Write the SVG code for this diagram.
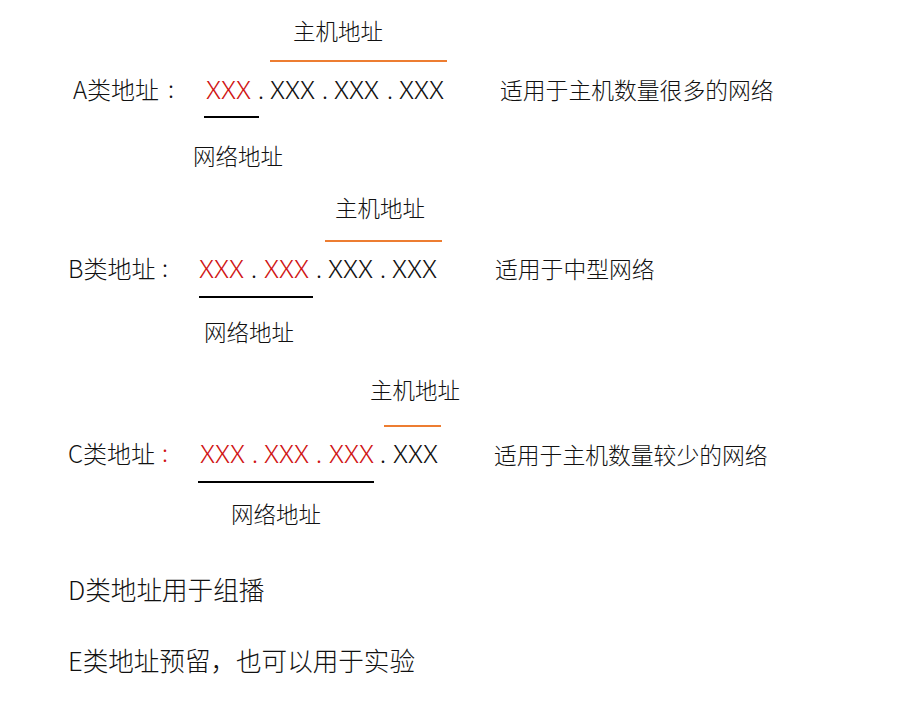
<svg xmlns="http://www.w3.org/2000/svg" width="901" height="701" viewBox="0 0 901 701">
<style>
text{font-family:"Noto Sans CJK SC","Noto Sans",sans-serif;fill:#111;font-weight:300;}
.lbl{font-size:24px;}
.sm{font-size:22.5px;}
.rt{font-size:22.8px;}
.big{font-size:25.6px;}
.x{font-size:24px;}
.r{fill:#d01515;}
.net{stroke:#000;stroke-width:2;}
.host{stroke:#ed7d31;stroke-width:2;}
</style>
<rect width="901" height="701" fill="#fff"/>
<g id="classA">
<text class="lbl" x="73" y="99">A类地址</text>
<text class="lbl" x="168" y="98">:</text>
<text class="x r" x="206" y="99" textLength="45" lengthAdjust="spacingAndGlyphs">XXX</text>
<text class="x" x="258" y="99">.</text>
<text class="x" x="270" y="99" textLength="45" lengthAdjust="spacingAndGlyphs">XXX</text>
<text class="x" x="322" y="99">.</text>
<text class="x" x="334" y="99" textLength="45" lengthAdjust="spacingAndGlyphs">XXX</text>
<text class="x" x="387" y="99">.</text>
<text class="x" x="399" y="99" textLength="45" lengthAdjust="spacingAndGlyphs">XXX</text>
<text class="sm" x="293" y="40">主机地址</text>
<text class="sm" x="193" y="165">网络地址</text>
<text class="rt" x="500" y="99">适用于主机数量很多的网络</text>
</g>
<g id="classB">
<text class="lbl" x="68" y="278">B类地址</text>
<text class="lbl" x="162" y="277">:</text>
<text class="x r" x="199" y="278" textLength="45" lengthAdjust="spacingAndGlyphs">XXX</text>
<text class="x" x="251" y="278">.</text>
<text class="x r" x="264" y="278" textLength="45" lengthAdjust="spacingAndGlyphs">XXX</text>
<text class="x" x="316" y="278">.</text>
<text class="x" x="328" y="278" textLength="45" lengthAdjust="spacingAndGlyphs">XXX</text>
<text class="x" x="380" y="278">.</text>
<text class="x" x="392" y="278" textLength="45" lengthAdjust="spacingAndGlyphs">XXX</text>
<text class="sm" x="335" y="217">主机地址</text>
<text class="sm" x="204" y="341">网络地址</text>
<text class="rt" x="495" y="278">适用于中型网络</text>
</g>
<g id="classC">
<text class="lbl" x="68" y="463">C类地址</text>
<text class="lbl r" x="162" y="462">:</text>
<text class="x r" x="200" y="463" textLength="45" lengthAdjust="spacingAndGlyphs">XXX</text>
<text class="x r" x="252" y="463">.</text>
<text class="x r" x="264" y="463" textLength="45" lengthAdjust="spacingAndGlyphs">XXX</text>
<text class="x r" x="316" y="463">.</text>
<text class="x r" x="329" y="463" textLength="45" lengthAdjust="spacingAndGlyphs">XXX</text>
<text class="x" x="380" y="463">.</text>
<text class="x" x="393" y="463" textLength="45" lengthAdjust="spacingAndGlyphs">XXX</text>
<text class="sm" x="370" y="399">主机地址</text>
<text class="sm" x="231" y="523">网络地址</text>
<text class="rt" x="494" y="464">适用于主机数量较少的网络</text>
</g>
<g id="classD">
<text class="big" x="68" y="600">D类地址用于组播</text>
</g>
<g id="classE">
<text class="big" x="68" y="671" textLength="347" lengthAdjust="spacing">E类地址预留，也可以用于实验</text>
</g>
<g id="connectors">
<line class="host" x1="270" y1="61" x2="447" y2="61"/>
<line class="net" x1="204" y1="117" x2="259" y2="117"/>
<line class="host" x1="325" y1="241" x2="442" y2="241"/>
<line class="net" x1="199" y1="297" x2="313" y2="297"/>
<line class="host" x1="384" y1="426" x2="441" y2="426"/>
<line class="net" x1="198" y1="482" x2="374" y2="482"/>
</g>
</svg>
